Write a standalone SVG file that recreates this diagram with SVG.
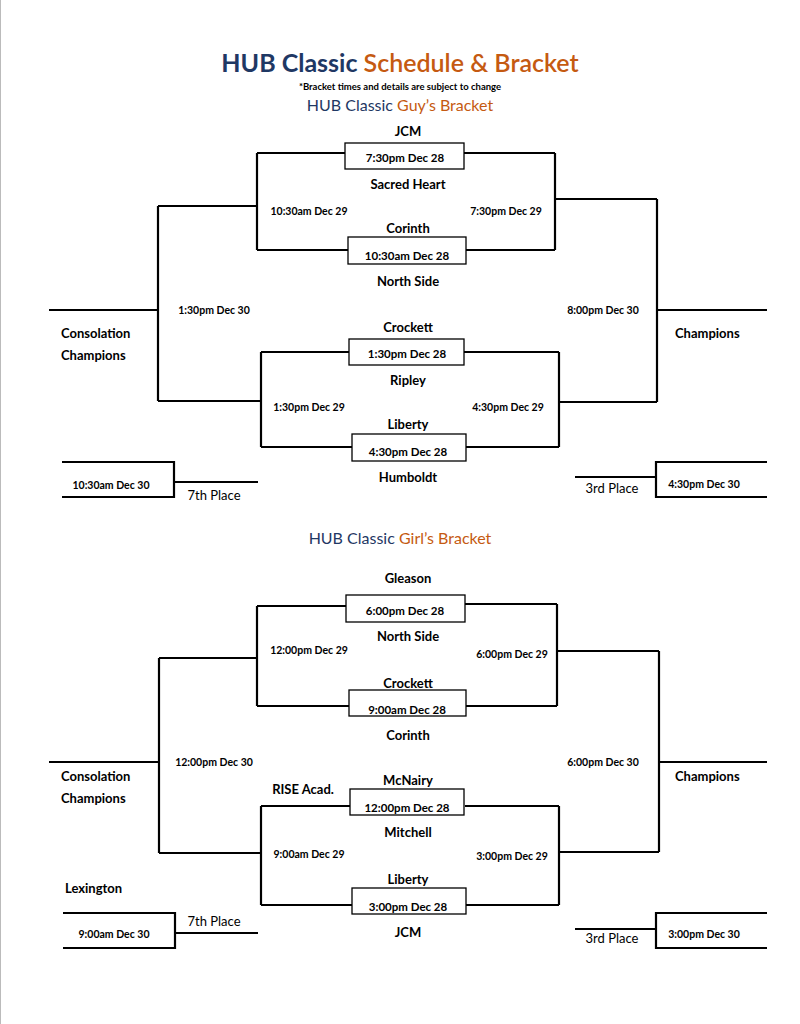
<svg xmlns="http://www.w3.org/2000/svg" width="800" height="1024" viewBox="0 0 800 1024">
<style>
text{font-family:Lato,"Open Sans","Liberation Sans",sans-serif;fill:#000;dominant-baseline:central}
.t{font-size:13px;font-weight:bold;text-anchor:middle}
.s{font-size:10.5px;font-weight:bold;text-anchor:middle}
.b{font-size:11.5px;font-weight:bold;text-anchor:middle}
.l{font-size:13px;font-weight:bold}
.p{font-size:13px;text-anchor:middle}
.n{fill:#1f3864}.o{fill:#c55a11}
.ln{fill:none;stroke:#000;stroke-width:2.2}
.bx{fill:#fff;stroke:#000;stroke-width:1.3}
</style>
<rect width="800" height="1024" fill="#fff"/>
<line x1="0.5" y1="0" x2="0.5" y2="1024" stroke="#bbb"/>
<text x="400" y="62" style="font-size:25px;font-weight:bold;text-anchor:middle"><tspan class="n">HUB Classic</tspan> <tspan class="o" style="font-weight:600">Schedule &amp; Bracket</tspan></text>
<text x="400" y="86" style="font-size:9.5px;font-weight:bold;text-anchor:middle">*Bracket times and details are subject to change</text>
<text x="400" y="104" style="font-size:16px;text-anchor:middle"><tspan class="n">HUB Classic</tspan> <tspan class="o">Guy’s Bracket</tspan></text>
<text x="400" y="537" style="font-size:16px;text-anchor:middle"><tspan class="n">HUB Classic</tspan> <tspan class="o">Girl’s Bracket</tspan></text>
<g id="connectors">
<path class="ln" d="M257 153H345M464 153H555M257 250H348M466 250H555M257 153V250M555 153V250M158 206H257M555 199H657M261 352H349M464 352H559M261 447H352M466 447H559M261 352V447M559 352V447M158 401H261M559 402H657M158 206V401M657 199V402M49 310H158M657 310H767"/>
<path class="ln" d="M62 462H174V497H62M174 482H258M575 477H656M767 462H656V497H767"/>
<path class="ln" d="M257 606H346M465 604H557M257 706H349M466 706H557M257 606V706M557 604V706M159 658H257M557 651H659M261 806H350M465 806H559M261 905H352M466 905H559M261 806V905M559 806V905M159 853H261M559 852H659M159 658V853M659 651V852M49 762H159M659 762H767"/>
<path class="ln" d="M63 913H175V948H63M175 933H258M575 929H656M767 913H656V948H767"/>
</g>
<g id="guys">
<g id="g1"><rect class="bx" x="345" y="143" width="119" height="26"/><text class="b" x="405" y="157">7:30pm Dec 28</text></g>
<g id="g2"><rect class="bx" x="348" y="237" width="118" height="27"/><text class="b" x="407" y="255">10:30am Dec 28</text></g>
<g id="g3"><rect class="bx" x="349" y="339" width="115" height="26"/><text class="b" x="407" y="353">1:30pm Dec 28</text></g>
<g id="g4"><rect class="bx" x="352" y="434" width="114" height="27"/><text class="b" x="408" y="451">4:30pm Dec 28</text></g>
<text class="t" x="408" y="131">JCM</text>
<text class="t" x="408" y="184">Sacred Heart</text>
<text class="t" x="408" y="228">Corinth</text>
<text class="t" x="408" y="281">North Side</text>
<text class="t" x="408" y="327">Crockett</text>
<text class="t" x="408" y="380">Ripley</text>
<text class="t" x="408" y="424">Liberty</text>
<text class="t" x="408" y="477">Humboldt</text>
<text class="s" x="309" y="211">10:30am Dec 29</text>
<text class="s" x="506" y="211">7:30pm Dec 29</text>
<text class="s" x="214" y="310">1:30pm Dec 30</text>
<text class="s" x="603" y="310">8:00pm Dec 30</text>
<text class="s" x="309" y="407">1:30pm Dec 29</text>
<text class="s" x="508" y="407">4:30pm Dec 29</text>
<text class="l" x="61" y="333">Consolation</text>
<text class="l" x="61" y="355">Champions</text>
<text class="l" x="675" y="333">Champions</text>
<text class="s" x="111" y="485">10:30am Dec 30</text>
<text class="p" x="214" y="495">7th Place</text>
<text class="p" x="612" y="488">3rd Place</text>
<text class="s" x="704" y="484">4:30pm Dec 30</text>
</g>
<g id="girls">
<g id="w1"><rect class="bx" x="346" y="595" width="119" height="27"/><text class="b" x="405" y="610">6:00pm Dec 28</text></g>
<g id="w2"><rect class="bx" x="349" y="690" width="117" height="26"/><text class="b" x="407" y="709">9:00am Dec 28</text></g>
<g id="w3"><rect class="bx" x="350" y="789" width="114" height="26"/><text class="b" x="407" y="807">12:00pm Dec 28</text></g>
<g id="w4"><rect class="bx" x="352" y="888" width="114" height="26"/><text class="b" x="408" y="906">3:00pm Dec 28</text></g>
<text class="t" x="408" y="578">Gleason</text>
<text class="t" x="408" y="636">North Side</text>
<text class="t" x="408" y="683">Crockett</text>
<text class="t" x="408" y="735">Corinth</text>
<text class="t" x="408" y="780">McNairy</text>
<text class="t" x="303" y="789">RISE Acad.</text>
<text class="t" x="408" y="832">Mitchell</text>
<text class="t" x="408" y="879">Liberty</text>
<text class="t" x="408" y="932">JCM</text>
<text class="s" x="309" y="650">12:00pm Dec 29</text>
<text class="s" x="512" y="654">6:00pm Dec 29</text>
<text class="s" x="214" y="762">12:00pm Dec 30</text>
<text class="s" x="603" y="762">6:00pm Dec 30</text>
<text class="s" x="309" y="854">9:00am Dec 29</text>
<text class="s" x="512" y="856">3:00pm Dec 29</text>
<text class="l" x="61" y="776">Consolation</text>
<text class="l" x="61" y="798">Champions</text>
<text class="l" x="675" y="776">Champions</text>
<text class="l" x="65" y="888">Lexington</text>
<text class="p" x="214" y="921">7th Place</text>
<text class="s" x="114" y="934">9:00am Dec 30</text>
<text class="p" x="612" y="938">3rd Place</text>
<text class="s" x="704" y="934">3:00pm Dec 30</text>
</g>
</svg>
